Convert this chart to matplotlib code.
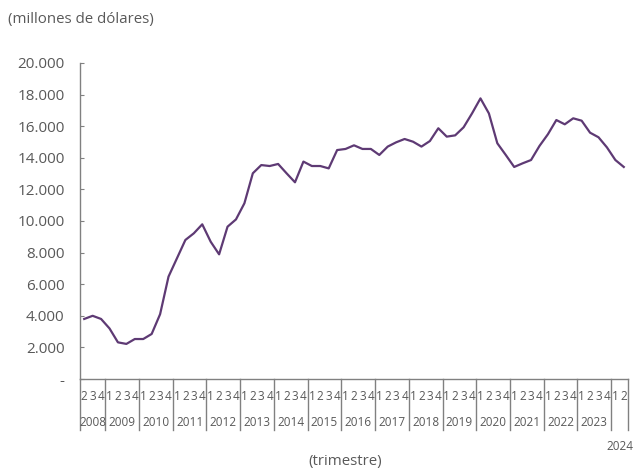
import matplotlib.pyplot as plt
import matplotlib.transforms as mtransforms

plt.rcParams['font.family'] = ['Open Sans', 'DejaVu Sans']

# quarterly values, 2008 Q2 .. 2024 Q2 (millones de dólares)
quarters = ['2', '3', '4'] + ['1', '2', '3', '4'] * 15 + ['1', '2']
years = ['2008'] + [str(y) for y in range(2009, 2024)] + ['2024']
year_sizes = [3] + [4] * 15 + [2]
values = [3800, 4000, 3800, 3200, 2320, 2220, 2530, 2530, 2850, 4100,
          6480, 7640, 8800, 9220, 9790, 8690, 7890, 9640, 10100, 11120,
          13020, 13540, 13480, 13610, 13020, 12450, 13760, 13480, 13480, 13330,
          14490, 14560, 14790, 14560, 14560, 14180, 14710, 14980, 15190, 15020,
          14710, 15060, 15870, 15340, 15420, 15930, 16810, 17760, 16810, 14920,
          14180, 13420, 13650, 13860, 14750, 15490, 16390, 16120, 16500, 16350,
          15590, 15300, 14660, 13860, 13420]
yticks = [0, 2000, 4000, 6000, 8000, 10000, 12000, 14000, 16000, 18000, 20000]

W, H = 633, 472
fig = plt.figure(figsize=(W / 100, H / 100), dpi=100)
ax = fig.add_axes([80 / W, 1 - 379 / H, 548 / W, 316 / H])

txt = '#595959'
axc = '#808080'
x = list(range(len(values)))
ax.plot(x, values, color='#5e3a74', lw=1.6)

ax.set_xlim(-0.5, len(values) - 0.5)
ax.set_ylim(0, 20000)
for s in ['top', 'right']:
    ax.spines[s].set_visible(False)
for s in ['left', 'bottom']:
    ax.spines[s].set_color(axc)
    ax.spines[s].set_linewidth(1)

ax.set_yticks(yticks)
ax.set_yticklabels(['-' if v == 0 else f'{v:,}'.replace(',', '.') for v in yticks])
ax.tick_params(axis='y', direction='in', length=3, color=axc, pad=11,
               labelsize=11, labelcolor=txt)

ax.set_xticks(x)
ax.set_xticklabels(quarters)
ax.tick_params(axis='x', length=0, pad=8, labelsize=8.5, labelcolor=txt)

# year labels and separators
tr = mtransforms.blended_transform_factory(ax.transData, ax.transAxes)
y_sep = -(430 - 379) / 316
y_year = -(423 - 379) / 316
start = -0.5
ax.plot([start, start], [0, y_sep], color=axc, lw=1, transform=tr, clip_on=False)
for yr, n in zip(years, year_sizes):
    end = start + n
    ax.plot([end, end], [0, y_sep], color=axc, lw=1, transform=tr, clip_on=False)
    if yr == '2024':
        ax.text((start + end) / 2, -(446 - 379) / 316, yr, transform=tr,
                ha='center', va='center', fontsize=8.5, color=txt)
    else:
        ax.text((start + end) / 2, y_year, yr, transform=tr,
                ha='center', va='center', fontsize=8.5, color=txt)
    start = end

fig.text(8 / W, 1 - 20 / H, '(millones de dólares)', ha='left', va='center',
         fontsize=10.8, color=txt)
fig.text(345 / W, 1 - 462 / H, '(trimestre)', ha='center', va='center',
         fontsize=10.8, color=txt)

fig.savefig('out.png', dpi=100)
